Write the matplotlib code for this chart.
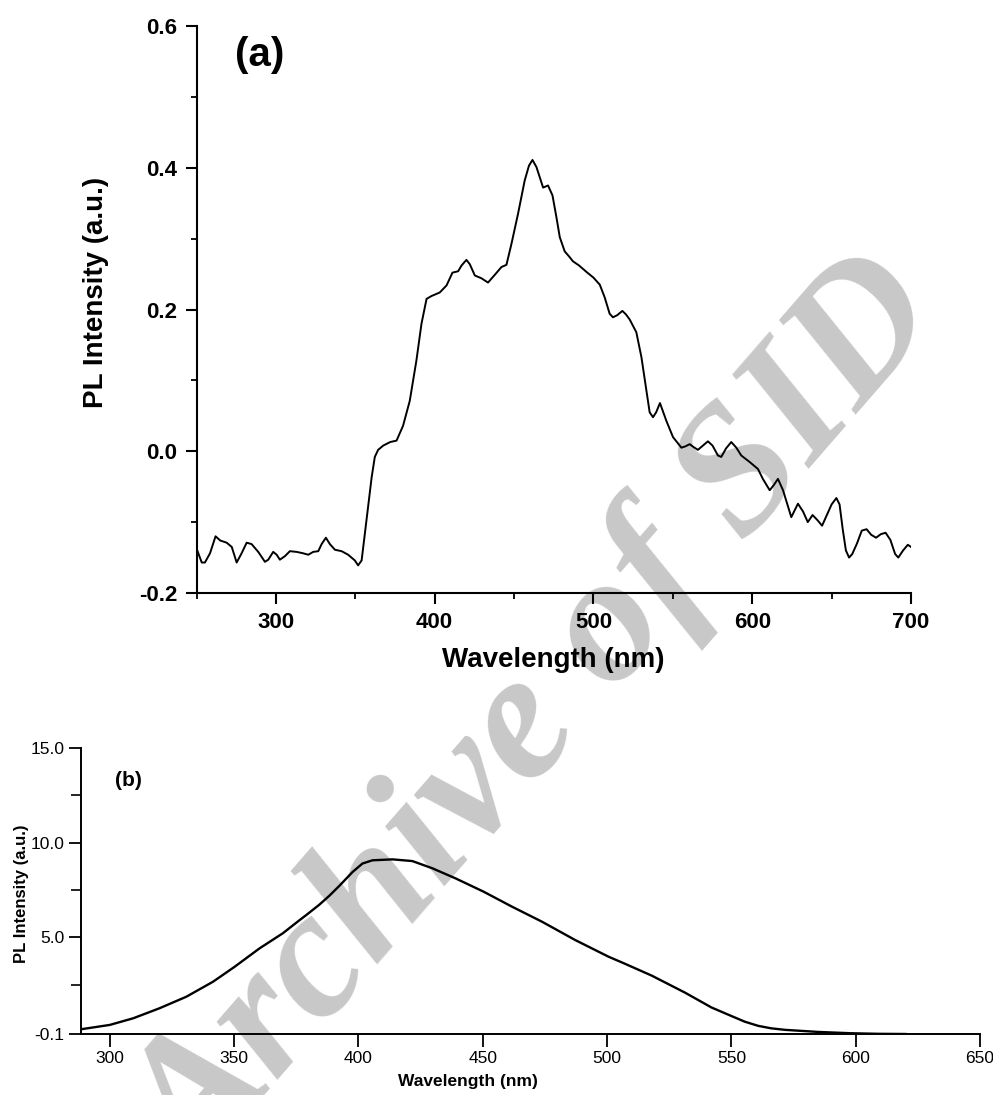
import matplotlib
matplotlib.use("Agg")
import matplotlib.pyplot as plt
from matplotlib.ticker import MultipleLocator, FixedLocator, FormatStrFormatter

plt.rcParams['font.family'] = ['Liberation Sans', 'DejaVu Sans']
plt.rcParams['axes.unicode_minus'] = False

# Panel (a): noisy PL spectrum
wl_a = [250, 253.3, 255.3, 258.5, 262, 265, 269, 272.2, 275.3, 278.4, 281.6, 284.7,
        288.9, 293.1, 295.2, 298.3, 300.5, 302.5, 305.7, 308.8, 313.1, 317.2, 320.4,
        323.5, 326.7, 328.8, 331.5, 334, 337.2, 341.4, 345.5, 349.7, 351.8, 354, 356,
        358.1, 360.3, 362.3, 364.4, 367.6, 372, 376, 380.1, 384.3, 388.5, 391.7, 394.9,
        398, 403.2, 407.5, 411.2, 414.8, 416.9, 420, 422.1, 425.3, 429.5, 433.6, 437.9,
        442.1, 445.2, 448.4, 452.5, 456.7, 459.4, 461.6, 464.1, 468.3, 471.4, 474.2,
        476.7, 478.8, 481.9, 484.6, 487.1, 491, 495.6, 500, 504, 507.1, 510.2, 512.3,
        515, 518.2, 520.5, 522.8, 527, 530.2, 533.3, 535.4, 537.5, 539.5, 541.9, 544,
        545.9, 550.1, 555.4, 558, 560.6, 563, 565.8, 569, 572.1, 575, 578.4, 580.5,
        583.5, 586.8, 590, 593.1, 598.3, 603.6, 606.7, 611, 613.5, 616.2, 619.4, 624.6,
        628.8, 632, 635, 638, 641, 644, 647, 650, 653, 655, 657, 659, 661, 663, 666,
        669, 672, 675, 678, 681, 684, 687, 690, 692, 695, 698, 700]
pl_a = [-0.137, -0.157, -0.157, -0.144, -0.120, -0.126, -0.129, -0.135, -0.157, -0.144,
        -0.129, -0.131, -0.142, -0.156, -0.153, -0.142, -0.146, -0.153, -0.148, -0.141,
        -0.142, -0.144, -0.146, -0.142, -0.141, -0.131, -0.122, -0.131, -0.139, -0.141,
        -0.146, -0.154, -0.161, -0.154, -0.117, -0.079, -0.037, -0.008, 0.002, 0.008,
        0.013, 0.015, 0.036, 0.071, 0.128, 0.180, 0.215, 0.219, 0.224, 0.234, 0.252,
        0.254, 0.262, 0.270, 0.264, 0.248, 0.244, 0.238, 0.249, 0.260, 0.263, 0.293,
        0.335, 0.382, 0.403, 0.411, 0.401, 0.372, 0.375, 0.361, 0.330, 0.302, 0.282,
        0.275, 0.268, 0.262, 0.253, 0.245, 0.235, 0.217, 0.194, 0.189, 0.192, 0.198,
        0.193, 0.186, 0.168, 0.133, 0.086, 0.055, 0.048, 0.055, 0.068, 0.055, 0.043,
        0.020, 0.005, 0.007, 0.010, 0.006, 0.002, 0.008, 0.014, 0.008, -0.006, -0.008,
        0.004, 0.013, 0.005, -0.006, -0.015, -0.025, -0.039, -0.055, -0.048, -0.039,
        -0.055, -0.093, -0.074, -0.085, -0.100, -0.090, -0.097, -0.105, -0.090, -0.075,
        -0.066, -0.075, -0.110, -0.140, -0.150, -0.145, -0.130, -0.112, -0.110, -0.118,
        -0.122, -0.117, -0.115, -0.125, -0.145, -0.150, -0.140, -0.132, -0.135]

# Panel (b): smooth PL spectrum
wl_b = [288.4, 300, 309.4, 320, 330.8, 341.5, 350.2, 360.2, 369.6, 376.2, 379, 384.2,
        388.3, 392.3, 397.6, 401.6, 405.6, 413.7, 421.7, 429.7, 439, 450.4, 461.8,
        473.8, 487.2, 500.6, 507, 518, 531.4, 542, 550, 555.4, 560.8, 566, 571.5,
        584.8, 598.2, 609, 620]
pl_b = [0.15, 0.38, 0.73, 1.26, 1.87, 2.66, 3.45, 4.42, 5.22, 5.90, 6.18, 6.72, 7.20,
        7.72, 8.45, 8.90, 9.07, 9.12, 9.03, 8.65, 8.12, 7.41, 6.62, 5.83, 4.86, 3.98,
        3.62, 2.98, 2.08, 1.30, 0.85, 0.55, 0.33, 0.20, 0.12, 0.01, -0.06, -0.09, -0.1]

a_xticks = [300, 400, 500, 600, 700]
a_yticks = [-0.2, 0.0, 0.2, 0.4, 0.6]
b_xticks = [300, 350, 400, 450, 500, 550, 600, 650]
b_yticks = [-0.1, 5.0, 10.0, 15.0]
b_yminor = [2.5, 7.5, 12.5]

W, H = 993, 1095
fig = plt.figure(figsize=(W / 100, H / 100), dpi=100)


def px_box(x0, x1, y0, y1):
    # axes box from pixel edges (y measured from top)
    return [x0 / W, 1 - y1 / H, (x1 - x0) / W, (y1 - y0) / H]


# ---- panel (a) ----
ax1 = fig.add_axes(px_box(196.5, 911, 26, 593))
ax1.patch.set_visible(False)
ax1.plot(wl_a, pl_a, color='black', lw=1.4)
ax1.set_xlim(250, 700)
ax1.set_ylim(-0.2, 0.6)
ax1.xaxis.set_major_locator(FixedLocator(a_xticks))
ax1.xaxis.set_minor_locator(MultipleLocator(50))
ax1.yaxis.set_major_locator(FixedLocator(a_yticks))
ax1.yaxis.set_minor_locator(MultipleLocator(0.1))
ax1.yaxis.set_major_formatter(FormatStrFormatter('%.1f'))
for s in ['top', 'right']:
    ax1.spines[s].set_visible(False)
for s in ['left', 'bottom']:
    ax1.spines[s].set_linewidth(1.5)
ax1.tick_params(which='major', direction='out', length=8, width=1.5, pad=6)
ax1.tick_params(which='minor', direction='out', length=4.5, width=1.3)
for lab in ax1.get_xticklabels() + ax1.get_yticklabels():
    lab.set_fontsize(16)
    lab.set_fontweight('bold')
ax1.set_xlabel('Wavelength (nm)', fontsize=20, fontweight='bold')
ax1.set_ylabel('PL Intensity (a.u.)', fontsize=20, fontweight='bold')
ax1.xaxis.set_label_coords(0.5, -0.095)
ax1.yaxis.set_label_coords(-0.122, 0.53)
ax1.text(0.054, 0.949, '(a)', transform=ax1.transAxes, fontsize=29,
         fontweight='bold', va='center', ha='left')

# ---- panel (b) ----
ax2 = fig.add_axes(px_box(81, 980, 748, 1034))
ax2.patch.set_visible(False)
ax2.plot(wl_b, pl_b, color='black', lw=1.7)
ax2.set_xlim(288.4, 650)
ax2.set_ylim(-0.1, 15.0)
ax2.xaxis.set_major_locator(FixedLocator(b_xticks))
ax2.yaxis.set_major_locator(FixedLocator(b_yticks))
ax2.yaxis.set_minor_locator(FixedLocator(b_yminor))
ax2.yaxis.set_major_formatter(FormatStrFormatter('%.1f'))
for s in ['top', 'right']:
    ax2.spines[s].set_visible(False)
for s in ['left', 'bottom']:
    ax2.spines[s].set_linewidth(1.4)
ax2.tick_params(which='major', direction='out', length=9, width=1.3, pad=3,
                labelsize=12.5)
ax2.tick_params(which='minor', direction='out', length=7, width=1.2)
ax2.set_xlabel('Wavelength (nm)', fontsize=12.5, fontweight='bold')
ax2.set_ylabel('PL Intensity (a.u.)', fontsize=12, fontweight='bold')
ax2.xaxis.set_label_coords(0.43, -0.14)
ax2.yaxis.set_label_coords(-0.058, 0.49)
ax2.text(0.038, 0.885, '(b)', transform=ax2.transAxes, fontsize=15,
         fontweight='bold', va='center', ha='left')

# watermark behind the plots
fig.text(540 / W, 1 - 722 / H, 'Archive of SID', fontsize=132,
         family=['Liberation Serif', 'DejaVu Serif'], style='italic',
         fontweight='bold', color='#c8c8c8', rotation=49,
         rotation_mode='anchor', ha='center', va='center', zorder=-1)

fig.savefig('out.png', dpi=100)
print("saved out.png")
